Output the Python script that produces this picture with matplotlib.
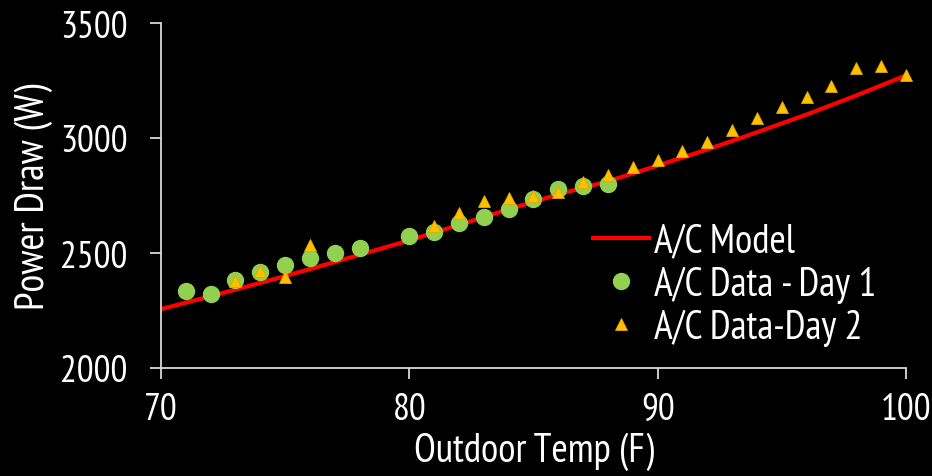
import matplotlib
matplotlib.use("Agg")
import matplotlib.pyplot as plt

# ---- data ----
model_temp = [70, 72, 74, 76, 78, 80, 82, 84, 86, 88, 90, 92, 94, 96, 98, 100]
model_power = [2256, 2312, 2370, 2430, 2492, 2555, 2622, 2690, 2755, 2812,
               2880, 2950, 3025, 3102, 3185, 3272]

day1_temp = [71, 72, 73, 74, 75, 76, 77, 78, 80, 81, 82, 83, 84, 85, 86, 87, 88]
day1_power = [2336, 2323, 2383, 2419, 2448, 2477, 2499, 2520, 2574, 2593,
              2631, 2658, 2693, 2735, 2778, 2793, 2801]

day2_temp = [73, 74, 75, 76, 81, 82, 83, 84, 85, 86, 87, 88, 89, 90,
             91, 92, 93, 94, 95, 96, 97, 98, 99, 100]
day2_power = [2380, 2423, 2397, 2536, 2616, 2674, 2725, 2739, 2748, 2767,
              2809, 2838, 2874, 2906, 2942, 2981, 3035, 3088, 3136, 3178,
              3227, 3303, 3313, 3275]

x_ticks = [70, 80, 90, 100]
y_ticks = [2000, 2500, 3000, 3500]

plt.rcParams['font.family'] = ['PT Sans Narrow', 'DejaVu Sans']

fg = '#FFFFFF'
spine_c = '#D9D9D9'

fig = plt.figure(figsize=(9.32, 4.77), dpi=100, facecolor='black')
ax = fig.add_axes([161/932, 1 - 369/477, (906-161)/932, (369-24)/477])
ax.set_facecolor('black')

ax.plot(model_temp, model_power, color='#FF0000', lw=3.0, label='A/C Model', zorder=2)
ax.plot(day1_temp, day1_power, ls='none', marker='o', ms=11.5, color='#92D050',
        mec='#92D050', label='A/C Data - Day 1', zorder=3, clip_on=False)
ax.plot(day2_temp, day2_power, ls='none', marker='^', ms=8, color='#FFC000',
        mec='#E0A800', mew=0.6, label='A/C Data-Day 2', zorder=4, clip_on=False)

ax.set_xlim(70, 100)
ax.set_ylim(2000, 3500)
ax.set_xticks(x_ticks)
ax.set_yticks(y_ticks)

for s in ['top', 'right']:
    ax.spines[s].set_visible(False)
for s in ['left', 'bottom']:
    ax.spines[s].set_color(spine_c)
    ax.spines[s].set_linewidth(1.3)

ax.tick_params(axis='both', colors=spine_c, direction='out', length=8, width=1.3,
               labelsize=27, labelcolor=fg)
ax.tick_params(axis='y', pad=16)
ax.tick_params(axis='x', pad=9)

ax.set_xlabel('Outdoor Temp (F)', fontsize=28.5, color=fg)
ax.set_ylabel('Power Draw (W)', fontsize=29.5, color=fg)
ax.xaxis.set_label_coords(0.5, -0.185)
ax.yaxis.set_label_coords(-0.145, 0.5)

leg = ax.legend(loc='center left', bbox_to_anchor=(0.58, 0.243), frameon=False,
                fontsize=28.5, labelcolor=fg, borderpad=0, borderaxespad=0,
                handlelength=1.4, handletextpad=0.13, labelspacing=0.15)
leg.legend_handles[2].set_markersize(8)

fig.savefig('out.png', dpi=100, facecolor='black')
